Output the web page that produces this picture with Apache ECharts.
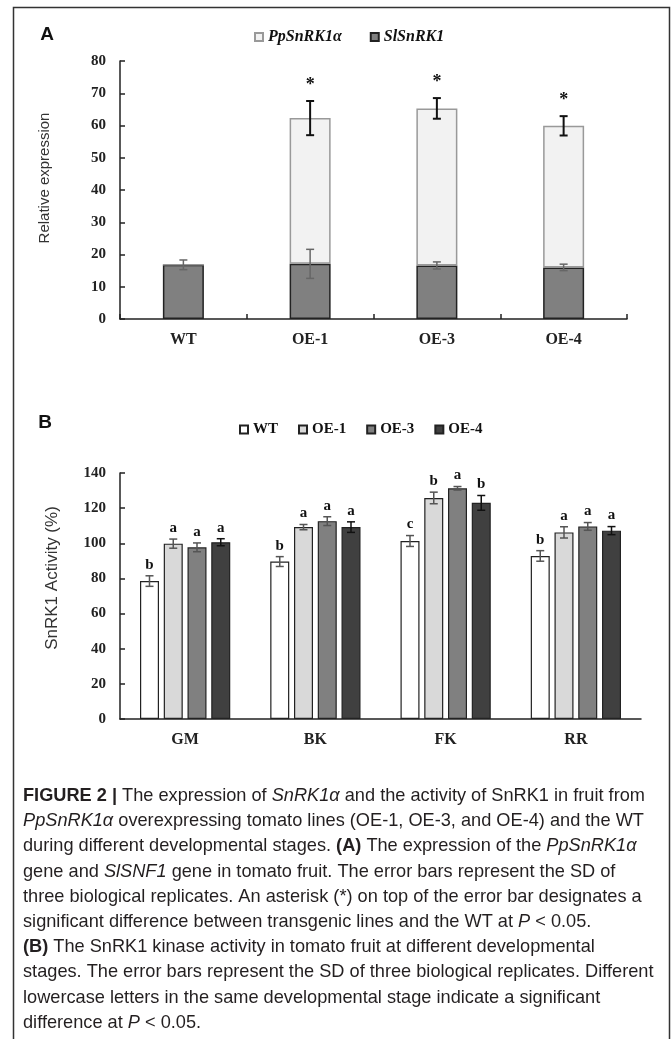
<!DOCTYPE html>
<html>
<head>
<meta charset="utf-8">
<script src="https://cdn.jsdelivr.net/npm/echarts@6/dist/echarts.min.js"></script>
<style>
  html, body { margin: 0; padding: 0; background: #fff; }
  #chart { width: 672px; height: 1039px; }
</style>
</head>
<body>
<div id="chart"></div>
<script>
// panel A: relative expression
var linesA = ['WT', 'OE-1', 'OE-3', 'OE-4'];
var slVals = [16.8, 17.1, 16.6, 16.0];
var slErr = [1.5, 4.5, 1.1, 1.0];
var ppVals = [0, 45.2, 48.7, 43.9];
var totErr = [0, 5.3, 3.2, 3.0];
var starMarks = ['', '*', '*', '*'];
var ticksA = [0, 80, 10];

// panel B: SnRK1 activity
var stages = ['GM', 'BK', 'FK', 'RR'];
var wtVals = [78.5, 89.6, 101.3, 92.8];
var oe1Vals = [99.8, 109.2, 125.8, 106.2];
var oe3Vals = [97.7, 112.6, 131.3, 109.6];
var oe4Vals = [100.6, 109.2, 123.0, 107.2];
var wtErr = [3.0, 2.8, 3.1, 3.0];
var oe1Err = [2.6, 1.5, 3.3, 3.2];
var oe3Err = [2.5, 2.5, 1.0, 2.2];
var oe4Err = [2.0, 3.0, 4.2, 2.3];
var wtLetters = ['b', 'b', 'c', 'b'];
var oe1Letters = ['a', 'a', 'b', 'a'];
var oe3Letters = ['a', 'a', 'a', 'a'];
var oe4Letters = ['a', 'a', 'b', 'a'];
var ticksB = [0, 140, 20];

var captionLines = [
  '{b|FIGURE 2 |} The expression of {i|SnRK1α} and the activity of SnRK1 in fruit from',
  '{i|PpSnRK1α} overexpressing tomato lines (OE-1, OE-3, and OE-4) and the WT',
  'during different developmental stages. {b|(A)} The expression of the {i|PpSnRK1α}',
  'gene and {i|SlSNF1} gene in tomato fruit. The error bars represent the SD of',
  'three biological replicates. An asterisk (*) on top of the error bar designates a',
  'significant difference between transgenic lines and the WT at {i|P} < 0.05.',
  '{b|(B)} The SnRK1 kinase activity in tomato fruit at different developmental',
  'stages. The error bars represent the SD of three biological replicates. Different',
  'lowercase letters in the same developmental stage indicate a significant',
  'difference at {i|P} < 0.05.'
];

var serif = '"Liberation Serif", "DejaVu Serif", serif';
var sans = '"Liberation Sans", Arial, sans-serif';

var errBar = function (dx, color, lw, marks, font, lift) {
  return function (params, api) {
    var i = api.value(0), v = api.value(1), e = api.value(2);
    if (!e) {
      return null;
    }
    var x = api.coord([i, v])[0] + dx;
    var yh = api.coord([i, v + e])[1];
    var yl = api.coord([i, v - e])[1];
    var st = { stroke: color, lineWidth: lw };
    var kids = [
      { type: 'line', shape: { x1: x, y1: yh, x2: x, y2: yl }, style: st },
      { type: 'line', shape: { x1: x - 4, y1: yh, x2: x + 4, y2: yh }, style: st },
      { type: 'line', shape: { x1: x - 4, y1: yl, x2: x + 4, y2: yl }, style: st }
    ];
    var m = marks ? marks[params.dataIndex] : '';
    if (m) {
      kids.push({
        type: 'text',
        style: {
          text: m, x: x, y: yh - lift, align: 'center', verticalAlign: 'middle',
          font: font, fill: '#111'
        }
      });
    }
    return { type: 'group', children: kids };
  };
};

var errData = function (vals, errs) {
  var out = [];
  for (var i = 0; i < vals.length; i++) {
    out.push([i, vals[i], errs[i]]);
  }
  return out;
};

var sumArr = function (a, b) {
  return a.map(function (v, i) { return v + b[i]; });
};

var axisStyle = { lineStyle: { color: '#222', width: 1.5 } };
var tickLabel = { color: '#222', fontFamily: serif, fontWeight: 'bold', fontSize: 15, margin: 14 };
var catLabel = { color: '#222', fontFamily: serif, fontWeight: 'bold', fontSize: 16, margin: 13 };

var barW = 19;
var gapB = 0.25;
var stepB = barW * (1 + gapB);

var barB = function (name, vals, color) {
  return {
    name: name, type: 'bar', xAxisIndex: 1, yAxisIndex: 1,
    barWidth: barW, barGap: (gapB * 100) + '%',
    itemStyle: { color: color, borderColor: '#222', borderWidth: 1.2 },
    data: vals
  };
};

var errB = function (k, vals, errs, letters, color) {
  return {
    type: 'custom', xAxisIndex: 1, yAxisIndex: 1, z: 5,
    renderItem: errBar((k - 1.5) * stepB, color, 1.5, letters,
      'bold 15px ' + serif, 11),
    data: errData(vals, errs)
  };
};

var captionGraphics = captionLines.map(function (ln, i) {
  return {
    type: 'text', left: 23, top: 787 + i * 25.2,
    style: {
      text: ln, font: '18.2px ' + sans, fill: '#231f20',
      rich: {
        b: { fontWeight: 'bold', fontSize: 18.2, fontFamily: sans, fill: '#231f20' },
        i: { fontStyle: 'italic', fontSize: 18.2, fontFamily: sans, fill: '#231f20' }
      }
    }
  };
});

var chart = echarts.init(document.getElementById('chart'), null, { renderer: 'canvas' });

var option = {
  animation: false,
  backgroundColor: '#fff',
  grid: [
    { left: 120, top: 61, width: 507, height: 258 },
    { left: 120, top: 473, width: 521, height: 246 }
  ],
  legend: [
    {
      left: 249, top: 24, icon: 'rect', itemWidth: 8, itemHeight: 8, itemGap: 28,
      data: ['PpSnRK1α', 'SlSnRK1'],
      textStyle: { fontFamily: serif, fontWeight: 'bold', fontStyle: 'italic', fontSize: 16, color: '#111' }
    },
    {
      left: 234, top: 417, icon: 'rect', itemWidth: 8, itemHeight: 8, itemGap: 20,
      data: ['WT', 'OE-1', 'OE-3', 'OE-4'],
      textStyle: { fontFamily: serif, fontWeight: 'bold', fontSize: 15, color: '#111' }
    }
  ],
  xAxis: [
    {
      type: 'category', gridIndex: 0, data: linesA,
      axisLine: axisStyle,
      axisTick: { show: true, inside: true, length: 5, lineStyle: { color: '#222', width: 1.5 } },
      axisLabel: catLabel
    },
    {
      type: 'category', gridIndex: 1, data: stages,
      axisLine: axisStyle,
      axisTick: { show: false },
      axisLabel: catLabel
    }
  ],
  yAxis: [
    {
      type: 'value', gridIndex: 0, min: ticksA[0], max: ticksA[1], interval: ticksA[2],
      axisLine: { show: true, lineStyle: { color: '#222', width: 1.5 } },
      axisTick: { show: true, inside: true, length: 5, lineStyle: { color: '#222', width: 1.5 } },
      splitLine: { show: false },
      axisLabel: tickLabel
    },
    {
      type: 'value', gridIndex: 1, min: ticksB[0], max: ticksB[1], interval: ticksB[2],
      axisLine: { show: true, lineStyle: { color: '#222', width: 1.5 } },
      axisTick: { show: true, inside: true, length: 5, lineStyle: { color: '#222', width: 1.5 } },
      splitLine: { show: false },
      axisLabel: tickLabel
    }
  ],
  series: [
    {
      name: 'SlSnRK1', type: 'bar', stack: 'a', xAxisIndex: 0, yAxisIndex: 0, barWidth: 41,
      itemStyle: { color: '#808080', borderColor: '#222', borderWidth: 1.5 },
      data: slVals
    },
    {
      name: 'PpSnRK1α', type: 'bar', stack: 'a', xAxisIndex: 0, yAxisIndex: 0, barWidth: 41,
      itemStyle: { color: '#f2f2f2', borderColor: '#999', borderWidth: 1.5 },
      data: ppVals
    },
    {
      type: 'custom', xAxisIndex: 0, yAxisIndex: 0, z: 5,
      renderItem: errBar(0, '#666', 1.5, null),
      data: errData(slVals, slErr)
    },
    {
      type: 'custom', xAxisIndex: 0, yAxisIndex: 0, z: 5,
      renderItem: errBar(0, '#111', 2, starMarks, 'bold 18px ' + serif, 16),
      data: errData(sumArr(slVals, ppVals), totErr)
    },
    barB('WT', wtVals, '#ffffff'),
    barB('OE-1', oe1Vals, '#d9d9d9'),
    barB('OE-3', oe3Vals, '#808080'),
    barB('OE-4', oe4Vals, '#404040'),
    errB(0, wtVals, wtErr, wtLetters, '#555'),
    errB(1, oe1Vals, oe1Err, oe1Letters, '#555'),
    errB(2, oe3Vals, oe3Err, oe3Letters, '#555'),
    errB(3, oe4Vals, oe4Err, oe4Letters, '#111')
  ],
  graphic: [
    {
      type: 'rect', shape: { x: 13.5, y: 7.5, width: 656, height: 1045 },
      style: { fill: 'none', stroke: '#333', lineWidth: 1.5 }, silent: true
    },
    { type: 'text', x: 47, y: 35, style: { text: 'A', font: 'bold 19px ' + sans, fill: '#111', align: 'center', verticalAlign: 'middle' } },
    { type: 'text', x: 45, y: 423, style: { text: 'B', font: 'bold 19px ' + sans, fill: '#111', align: 'center', verticalAlign: 'middle' } },
    {
      type: 'text', x: 45, y: 178, rotation: Math.PI / 2,
      style: { text: 'Relative expression', font: '15px ' + sans, fill: '#333', align: 'center', verticalAlign: 'middle' }
    },
    {
      type: 'text', x: 52, y: 578, rotation: Math.PI / 2,
      style: { text: 'SnRK1 Activity (%)', font: '17px ' + sans, fill: '#333', align: 'center', verticalAlign: 'middle' }
    }
  ].concat(captionGraphics)
};

chart.setOption(option);
</script>
</body>
</html>
